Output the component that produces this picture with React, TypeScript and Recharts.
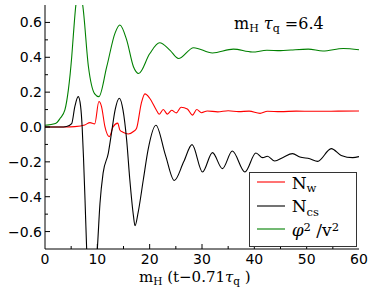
import { Legend, Line, LineChart, XAxis, YAxis } from "recharts";

const SANS = "'DejaVu Sans', sans-serif";
const SERIF = "'DejaVu Serif', serif";

// N_w (red)
const nwT = [0, 4, 5.7, 7.6, 8.6, 9.5, 10.3, 10.8, 11.45, 12.3, 13.0, 13.9, 14.3, 14.9, 15.9, 16.9, 17.5, 18.4, 19.1, 20.0, 21.3, 21.8, 22.6, 23.4, 24.2, 25.1, 26.0, 27.2, 28.2, 29.0, 29.9, 31, 33, 35, 37, 39, 41.1, 42.5, 45, 48, 52, 56, 60];
const nwVal = [0, 0, 0.002, 0.012, 0.025, 0.018, 0.146, 0.117, 0.002, -0.055, 0.0, 0.022, -0.017, -0.03, -0.04, -0.026, -0.007, 0.136, 0.19, 0.165, 0.096, 0.073, 0.1, 0.074, 0.096, 0.081, 0.113, 0.103, 0.068, 0.1, 0.082, 0.092, 0.087, 0.093, 0.088, 0.091, 0.078, 0.09, 0.088, 0.091, 0.09, 0.091, 0.092];

// N_cs (black)
const ncsT = [0, 3, 4.1, 5.1, 5.7, 6.35, 6.8, 7.1, 7.35, 7.65, 7.95, 8.9, 10.0, 10.5, 11.1, 12.1, 12.7, 13.4, 14.2, 14.9, 15.6, 16.2, 16.9, 17.2, 17.8, 18.8, 19.7, 21.2, 23.0, 24.7, 26.5, 28.1, 30.1, 32.0, 33.9, 35.8, 38.2, 40.3, 41.6, 42.5, 43.9, 45.4, 47.3, 48.7, 50.6, 52.1, 54.7, 56.6, 58.8, 60];
const ncsVal = [0, 0, 0.003, 0.02, 0.117, 0.174, 0.12, 0.0, -0.17, -0.42, -0.69, -1.05, -0.7, -0.44, -0.265, -0.15, -0.036, 0.098, 0.165, 0.098, -0.074, -0.3, -0.51, -0.567, -0.49, -0.3, -0.13, 0.01, -0.16, -0.307, -0.2, -0.101, -0.258, -0.147, -0.239, -0.138, -0.258, -0.149, -0.176, -0.168, -0.195, -0.176, -0.153, -0.172, -0.182, -0.197, -0.124, -0.163, -0.176, -0.17];

// phi^2 / v^2 (green)
const phiT = [0, 2, 2.9, 3.8, 4.45, 5.1, 5.4, 5.9, 6.5, 7.2, 8.3, 9.5, 10.3, 11.8, 13.4, 14.3, 15.6, 16.9, 17.9, 20.0, 21.9, 23.9, 25.5, 28.4, 32.0, 36.0, 39.6, 42.4, 45, 47, 50.3, 53.1, 57, 60];
const phiVal = [0.01, 0.02, 0.05, 0.098, 0.21, 0.4, 0.52, 0.7, 0.78, 0.7, 0.346, 0.19, 0.174, 0.346, 0.54, 0.585, 0.5, 0.346, 0.307, 0.42, 0.483, 0.44, 0.393, 0.455, 0.425, 0.447, 0.43, 0.44, 0.438, 0.442, 0.447, 0.436, 0.45, 0.443];

const seriesOrder = ["nw", "ncs", "phi"];

const xTicks = [0, 5, 10, 15, 20, 25, 30, 35, 40, 45, 50, 55, 60];
const yTicks = [-0.7, -0.6, -0.5, -0.4, -0.3, -0.2, -0.1, 0, 0.1, 0.2, 0.3, 0.4, 0.5, 0.6, 0.7];

const toPoints = (t: number[], v: number[]) => t.map((x, i) => ({ x, y: v[i] }));

const nwData = toPoints(nwT, nwVal);
const ncsData = toPoints(ncsT, ncsVal);
const phiData = toPoints(phiT, phiVal);

const isMajorY = (v: number) => Math.round(v * 10) % 2 === 0;
const isEdgeY = (v: number) => Math.abs(v) > 0.65;
const fmtY = (v: number) => (Math.round(v * 10) < 0 ? "\u2212" : "") + Math.abs(v).toFixed(1);

function LeftTick(props: any) {
  const { x, y, payload } = props;
  const v = payload.value;
  const major = isMajorY(v);
  return (
    <g>
      {!isEdgeY(v) && <line x1={x} x2={x + (major ? 5 : 3)} y1={y} y2={y} stroke="#000" />}
      {major && (
        <text x={x - 3} y={y + 5} textAnchor="end" fontFamily={SANS} fontSize={14} fill="#000">
          {fmtY(v)}
        </text>
      )}
    </g>
  );
}

function RightTick(props: any) {
  const { x, y, payload } = props;
  const v = payload.value;
  if (isEdgeY(v)) return <g />;
  return <line x1={x} x2={x - (isMajorY(v) ? 5 : 3)} y1={y} y2={y} stroke="#000" />;
}

function BottomTick(props: any) {
  const { x, y, payload } = props;
  const v = payload.value;
  const major = v % 10 === 0;
  const edge = v === 0 || v === 60;
  return (
    <g>
      {!edge && <line x1={x} x2={x} y1={y} y2={y - (major ? 5 : 3)} stroke="#000" />}
      {major && (
        <text x={x} y={y + 15} textAnchor="middle" fontFamily={SANS} fontSize={14} fill="#000">
          {v}
        </text>
      )}
    </g>
  );
}

function TopTick(props: any) {
  const { x, y, payload } = props;
  const v = payload.value;
  if (v === 0 || v === 60) return <g />;
  return <line x1={x} x2={x} y1={y} y2={y + (v % 10 === 0 ? 5 : 3)} stroke="#000" />;
}

const sub = { fontSize: "0.68em", position: "relative" as const, top: "0.3em" };
const sup = { fontSize: "0.68em", position: "relative" as const, top: "-0.45em" };

function legendLabel(key: string) {
  if (key === "nw")
    return (
      <>
        N<span style={sub}>w</span>
      </>
    );
  if (key === "ncs")
    return (
      <>
        N<span style={sub}>cs</span>
      </>
    );
  return (
    <>
      <i>φ</i>
      <span style={sup}>2</span> /v<span style={sup}>2</span>
    </>
  );
}

function LegendBox(props: any) {
  const payload = [...(props.payload ?? [])].sort(
    (a: any, b: any) => seriesOrder.indexOf(a.value) - seriesOrder.indexOf(b.value)
  );
  return (
    <div
      style={{
        position: "relative",
        width: 108,
        height: 75,
        border: "1px solid #333",
        boxSizing: "border-box",
        background: "#fff",
      }}
    >
      {payload.map((p: any, i: number) => (
        <div
          key={p.value}
          style={{
            position: "absolute",
            left: 6.7,
            top: -2.7 + i * 23.5,
            height: 24,
            display: "flex",
            alignItems: "center",
          }}
        >
          <svg width={28} height={24} style={{ display: "block" }}>
            <line x1={0} x2={28} y1={12} y2={12} stroke={p.color} strokeWidth={1.1} />
          </svg>
          <span
            style={{
              marginLeft: 7,
              fontFamily: SERIF,
              fontSize: 17,
              lineHeight: "24px",
              whiteSpace: "nowrap",
              position: "relative",
              top: 1.5,
              color: "#000",
            }}
          >
            {legendLabel(p.value)}
          </span>
        </div>
      ))}
    </div>
  );
}

export default function App() {
  return (
    <div style={{ position: "absolute", left: 0, top: 0, width: 374, height: 296, background: "#fff" }}>
      <LineChart width={374} height={296} margin={{ top: 5, right: 15, left: 0, bottom: 0 }}>
        <XAxis
          xAxisId="b"
          dataKey="x"
          type="number"
          domain={[0, 60]}
          ticks={xTicks}
          allowDataOverflow
          height={47}
          tickSize={0}
          tickMargin={0}
          tickLine={false}
          axisLine={{ stroke: "#000" }}
          tick={<BottomTick />}
          interval={0}
        />
        <XAxis
          xAxisId="t"
          orientation="top"
          dataKey="x"
          type="number"
          domain={[0, 60]}
          ticks={xTicks}
          allowDataOverflow
          height={0}
          tickSize={0}
          tickMargin={0}
          tickLine={false}
          axisLine={{ stroke: "#000" }}
          tick={<TopTick />}
          interval={0}
        />
        <YAxis
          yAxisId="l"
          type="number"
          domain={[-0.7, 0.7]}
          ticks={yTicks}
          allowDataOverflow
          width={45}
          tickSize={0}
          tickMargin={0}
          tickLine={false}
          axisLine={{ stroke: "#000" }}
          tick={<LeftTick />}
          interval={0}
        />
        <YAxis
          yAxisId="r"
          orientation="right"
          type="number"
          domain={[-0.7, 0.7]}
          ticks={yTicks}
          allowDataOverflow
          width={0}
          tickSize={0}
          tickMargin={0}
          tickLine={false}
          axisLine={{ stroke: "#000" }}
          tick={<RightTick />}
          interval={0}
        />
        <Line
          xAxisId="b"
          yAxisId="l"
          data={nwData}
          dataKey="y"
          name="nw"
          type="monotone"
          stroke="#ff0000"
          strokeWidth={1.1}
          dot={false}
          activeDot={false}
          isAnimationActive={false}
        />
        <Line
          xAxisId="b"
          yAxisId="l"
          data={ncsData}
          dataKey="y"
          name="ncs"
          type="monotone"
          stroke="#000000"
          strokeWidth={1.1}
          dot={false}
          activeDot={false}
          isAnimationActive={false}
        />
        <Line
          xAxisId="b"
          yAxisId="l"
          data={phiData}
          dataKey="y"
          name="phi"
          type="monotone"
          stroke="#008000"
          strokeWidth={1.1}
          dot={false}
          activeDot={false}
          isAnimationActive={false}
        />
        <Legend
          layout="vertical"
          align="center"
          verticalAlign="middle"
          content={<LegendBox />}
          wrapperStyle={{ left: 249, top: 172, width: 108, height: 75 }}
        />
      </LineChart>
      <svg
        width={374}
        height={296}
        style={{ position: "absolute", left: 0, top: 0, pointerEvents: "none" }}
      >
        <text x={234} y={29} fontFamily={SERIF} fontSize={16} fill="#000">
          m<tspan fontSize={11} dy={3}>H</tspan>
          <tspan dy={-3}> </tspan>
          <tspan fontStyle="italic">τ</tspan>
          <tspan fontSize={11} dy={3}>q</tspan>
          <tspan dy={-3}> =6.4</tspan>
        </text>
        <text x={139} y={282} fontFamily={SERIF} fontSize={15} fill="#000">
          m<tspan fontSize={10.5} dy={3}>H</tspan>
          <tspan dy={-3}> (t−0.71</tspan>
          <tspan fontStyle="italic">τ</tspan>
          <tspan fontSize={10.5} dy={3}>q</tspan>
          <tspan dy={-3}> )</tspan>
        </text>
      </svg>
    </div>
  );
}
